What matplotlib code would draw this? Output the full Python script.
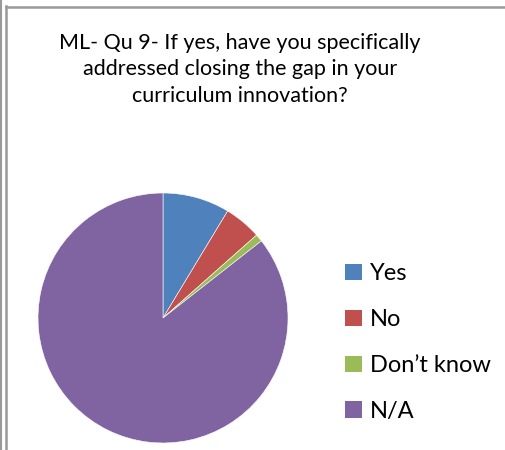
import numpy as np
import matplotlib
matplotlib.use("Agg")
from matplotlib import pyplot as plt
from matplotlib.lines import Line2D
from matplotlib.patches import Patch

# data
categories = ["Yes", "No", "Don\u2019t know", "N/A"]
counts = [9, 5, 1, 89]
colors = ["#4F81BD", "#C0504D", "#9BBB59", "#8064A2"]
title = "ML- Qu 9- If yes, have you specifically\naddressed closing the gap in your\ncurriculum innovation?"

plt.rcParams['font.family'] = ['Lato', 'DejaVu Sans']

W, H = 506, 450
fig = plt.figure(figsize=(W / 100, H / 100), dpi=100)

# frame lines like the source document
fig.add_artist(Line2D([1.5 / W, 1.5 / W], [0, 1], color="#999999", lw=1.5))
fig.add_artist(Line2D([6.5 / W, 6.5 / W], [0, 1 - 6 / H], color="#999999", lw=1.8))
fig.add_artist(Line2D([6 / W, 1], [1 - 6.5 / H, 1 - 6.5 / H], color="#999999", lw=1.8))

fig.text(240 / W, 1 - 33 / H, title, ha="center", va="top", fontsize=15.5,
         linespacing=1.4, color="black")

cx, cy, r = 163, 318, 125
ax = fig.add_axes([(cx - r) / W, (H - cy - r) / H, 2 * r / W, 2 * r / H])
wedges, _ = ax.pie(counts, colors=colors, startangle=90, counterclock=False,
                   wedgeprops={'linewidth': 0.4, 'edgecolor': 'white'})
ax.set_xlim(-1, 1)
ax.set_ylim(-1, 1)
ax.set_aspect("equal")
ax.axis("off")

handles = [Patch(facecolor=c, edgecolor="none") for c in colors]
fig.legend(handles, categories, loc="upper left",
           bbox_to_anchor=(336 / W, 1 - 254 / H), frameon=False,
           fontsize=17, handlelength=0.7, handleheight=0.7,
           handletextpad=0.35, labelspacing=1.05, borderaxespad=0)

fig.savefig("out.png", dpi=100)
